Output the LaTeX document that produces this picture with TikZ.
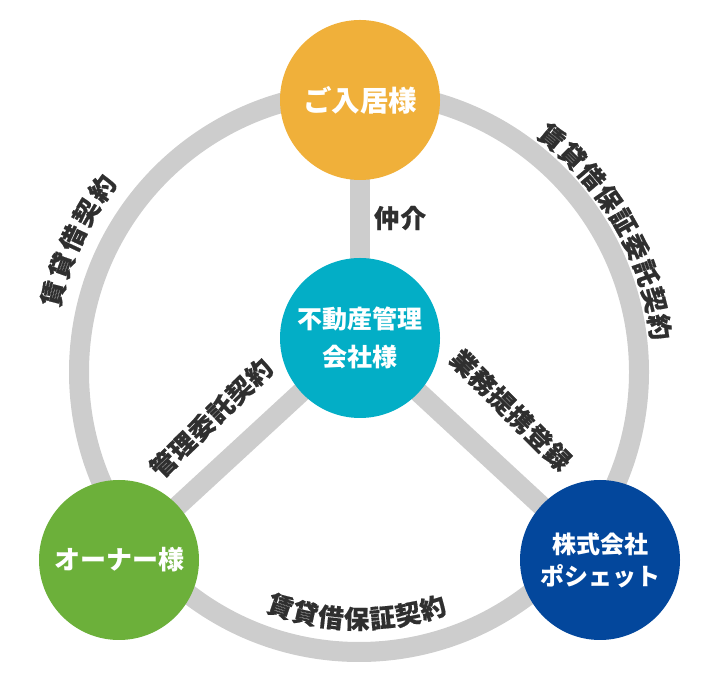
\documentclass[tikz,border=0pt]{standalone}
\usepackage{fontspec}
\setmainfont{Noto Sans CJK JP}
\usetikzlibrary{backgrounds}
\definecolor{ringgray}{HTML}{CDCDCD}
\definecolor{labelgray}{HTML}{2F2F2F}
\definecolor{nyukyocol}{HTML}{F0B03A}
\definecolor{kanricol}{HTML}{03AEC6}
\definecolor{ownercol}{HTML}{6CB03A}
\definecolor{poshetcol}{HTML}{03479C}
\tikzset{
  party/.style={circle,minimum size=160pt,inner sep=0pt,outer sep=0pt,
    text=white,align=center,font=\bfseries\fontsize{25}{38}\selectfont},
  link/.style={ringgray,line width=20pt},
  lbl/.style={text=labelgray,inner sep=0pt,
    font=\bfseries\fontsize{25.5}{25.5}\selectfont\addfontfeature{LetterSpace=4,FakeBold=0.6}},
}
\begin{document}
\begin{tikzpicture}[x=1pt,y=1pt]
  \useasboundingbox (0,0) rectangle (719,700);
  \coordinate (ring) at (359,328);
  % parties
  \node[party,fill=nyukyocol,font=\bfseries\fontsize{28.5}{28.5}\selectfont] (nyukyo) at (360,600) {ご入居様};
  \node[party,fill=kanricol] (kanri) at (360,362) {不動産管理\\会社様};
  \node[party,fill=ownercol,font=\bfseries\fontsize{26}{26}\selectfont] (owner) at (119,140) {オーナー様};
  \node[party,fill=poshetcol,font=\bfseries\fontsize{24}{32}\selectfont] (poshet) at (600,140) {株式会社\\ポシェット};
  % ring and spokes
  \begin{scope}[on background layer]
    \draw[link] (ring) circle (280);
    \draw[link] (kanri.center) -- (nyukyo.center);
    \draw[link] (kanri.center) -- (owner.center);
    \draw[link] (kanri.center) -- (poshet.center);
  \end{scope}
  % straight labels
  \node[lbl] (chukai) at (400,482) {仲介};
  \node[lbl,rotate=44] (itaku) at (211,282) {管理委託契約};
  \node[lbl,rotate=-45] (teikei) at (511,290) {業務提携登録};
  % labels along the ring
  \foreach \c [count=\i from 0] in {賃,貸,借,契,約}
    \node[lbl,rotate={75.6-\i*5.3}] at ([shift={({165.6-\i*5.3}:316)}]ring) {\c};
  \foreach \c [count=\i from 0] in {賃,貸,借,保,証,委,託,契,約}
    \node[lbl,rotate={-39.4-\i*5.26}] at ([shift={({50.6-\i*5.26}:304)}]ring) {\c};
  \foreach \c [count=\i from 0] in {賃,貸,借,保,証,契,約}
    \node[lbl,rotate={-18.5+\i*5.98}] at ([shift={({251.5+\i*5.98}:247)}]ring) {\c};
\end{tikzpicture}
\end{document}
